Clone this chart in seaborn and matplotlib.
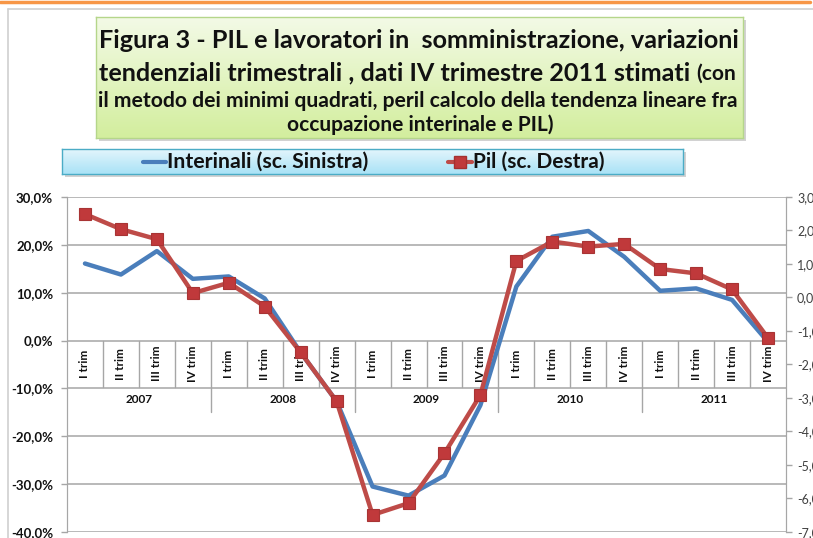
import numpy as np
import pandas as pd
import matplotlib
matplotlib.use("Agg")
import matplotlib.pyplot as plt
from matplotlib.patches import Rectangle
from matplotlib.lines import Line2D
import seaborn as sns

# Data
years = ["2007", "2008", "2009", "2010", "2011"]
quarters = ["I trim", "II trim", "III trim", "IV trim"]
interinali = [16.1, 13.8, 18.7, 12.9, 13.4, 8.8, -2.5, -12.7,
              -30.5, -32.4, -28.2, -13.5, 11.3, 21.7, 22.9, 17.5,
              10.4, 10.9, 8.5, -0.3]          # left axis, %
pil = [2.49, 2.04, 1.74, 0.13, 0.44, -0.27, -1.64, -3.10,
       -6.49, -6.14, -4.65, -2.91, 1.09, 1.67, 1.52, 1.60,
       0.85, 0.72, 0.24, -1.21]               # right axis, %
left_ticks = [30, 20, 10, 0, -10, -20, -30, -40]
right_ticks = [3, 2, 1, 0, -1, -2, -3, -4, -5, -6, -7]

W, H = 813, 538
BLUE = "#4A7EBB"
RED = "#BE4B48"
GRID = "#A6A6A6"
FONT = "Lato"

sns.set_style("white")
plt.rcParams['font.family'] = [FONT, 'DejaVu Sans']


def fx(x):
    return x / W


def fy(y):
    return 1 - y / H


def box_axes(fig, x0, y0, x1, y1, top_col, bot_col, edge):
    # drop shadow
    fig.patches.append(Rectangle((fx(x0 + 3), fy(y1 + 3)), (x1 - x0) / W, (y1 - y0) / H,
                                 transform=fig.transFigure, facecolor="#BFBFBF",
                                 edgecolor="none", alpha=0.7, zorder=0))
    bx = fig.add_axes([fx(x0), fy(y1), (x1 - x0) / W, (y1 - y0) / H], zorder=1)
    c0 = np.array(matplotlib.colors.to_rgb(top_col))
    c1 = np.array(matplotlib.colors.to_rgb(bot_col))
    t = np.linspace(0, 1, 64)[:, None]
    grad = (c0 * (1 - t) + c1 * t)[:, None, :]
    bx.imshow(grad, aspect="auto", extent=[0, 1, 0, 1])
    bx.set_xticks([])
    bx.set_yticks([])
    for s in bx.spines.values():
        s.set_color(edge)
        s.set_linewidth(1)
    return bx


fig = plt.figure(figsize=(W / 100, H / 100), dpi=100)
fig.patch.set_facecolor("white")

# page decorations
fig.add_artist(Line2D([0, fx(810)], [fy(1.5), fy(1.5)], color="#F79646", lw=2.5))
fig.add_artist(Line2D([fx(8), 1], [fy(9), fy(9)], color="#CFCFCF", lw=1.2))
fig.add_artist(Line2D([fx(8), fx(8)], [fy(9), 0], color="#CFCFCF", lw=1.2))

# title box
box_axes(fig, 96, 17, 743, 138, "#F3FAE6", "#D3EE9E", "#B5D68A")
fig.text(fx(419), fy(40), "Figura 3 - PIL e lavoratori in  somministrazione, variazioni",
         ha="center", va="center", fontsize=18.2, fontweight="bold", color="#111111")
fig.text(fx(690), fy(73), "tendenziali trimestrali , dati IV trimestre 2011 stimati",
         ha="right", va="center", fontsize=18.1, fontweight="bold", color="#111111")
fig.text(fx(696), fy(74), "(con", ha="left", va="center", fontsize=15,
         fontweight="bold", color="#111111")
fig.text(fx(418), fy(101), "il metodo dei minimi quadrati, peril calcolo della tendenza lineare fra",
         ha="center", va="center", fontsize=15.2, fontweight="bold", color="#111111")
fig.text(fx(420), fy(125), "occupazione interinale e PIL)",
         ha="center", va="center", fontsize=15, fontweight="bold", color="#111111")

# legend box
box_axes(fig, 62, 149, 683, 174, "#E3F5FC", "#A9E2F6", "#4BACC6")
fig.add_artist(Line2D([fx(143), fx(166)], [fy(162), fy(162)], color=BLUE, lw=3, zorder=5))
fig.text(fx(167), fy(162), "Interinali (sc. Sinistra)", ha="left", va="center",
         fontsize=15.3, fontweight="bold", color="#111111")
fig.add_artist(Line2D([fx(448), fx(472)], [fy(162), fy(162)], color=RED, lw=3, zorder=5))
fig.add_artist(Line2D([fx(460)], [fy(162)], color=RED, marker="s", markersize=9,
                      markerfacecolor="#C0393B", markeredgecolor="#A33030", zorder=6))
fig.text(fx(473), fy(162), "Pil (sc. Destra)", ha="left", va="center",
         fontsize=15, fontweight="bold", color="#111111")

# main chart
x_left, x_right, y_top, y_bot = 67, 786, 197, 532
ax = fig.add_axes([fx(x_left), fy(y_bot), (x_right - x_left) / W, (y_bot - y_top) / H], zorder=2)
ax.patch.set_alpha(0)
ax2 = ax.twinx()

n = len(interinali)
idx = np.arange(n)
df = pd.DataFrame({"pos": idx, "interinali": interinali, "pil": pil})

sns.lineplot(data=df, x="pos", y="interinali", ax=ax, color=BLUE, linewidth=3.2,
             zorder=4, clip_on=False)
sns.lineplot(data=df, x="pos", y="pil", ax=ax2, color=RED, linewidth=3.2,
             marker="s", markersize=9, markerfacecolor="#C0393B",
             markeredgecolor="#A83434", markeredgewidth=0.8, zorder=5, clip_on=False)

ax.set_xlim(-0.5, n - 0.5)
ax.set_ylim(-40, 30)
ax2.set_ylim(-7, 3)
ax.set_xlabel("")
ax.set_ylabel("")
ax2.set_ylabel("")
ax.set_xticks([])

ax.set_yticks(left_ticks)
ax.set_yticklabels([f"{v:.1f}%".replace(".", ",") for v in left_ticks],
                   fontsize=9.5, fontweight="bold", color="#111111")
ax2.set_yticks(right_ticks)
ax2.set_yticklabels([f"{v:.1f}%".replace(".", ",") for v in right_ticks],
                    fontsize=9, color="#404040")
ax.tick_params(axis="y", length=4, color=GRID, pad=6, width=1)
ax2.tick_params(axis="y", length=4, color=GRID, pad=4, width=1)

for v in left_ticks:
    ax.axhline(v, color=GRID, lw=1.1, zorder=1)

for a in (ax, ax2):
    a.spines["top"].set_visible(False)
    a.spines["bottom"].set_visible(False)
    a.spines["left"].set_color(GRID)
    a.spines["right"].set_color(GRID)
    a.grid(False)

# category axis drawn across the 0% line
px_per_unit = (y_bot - y_top) / 70.0
trim_bottom = -(385 - 339) / px_per_unit
year_bottom = -(410 - 339) / px_per_unit
for k in range(1, n):
    yb = year_bottom if k % 4 == 0 else trim_bottom
    ax.plot([k - 0.5, k - 0.5], [0, yb], color=GRID, lw=1, zorder=2)

for i in range(n):
    ax.text(i, -(362 - 339) / px_per_unit, quarters[i % 4], rotation=90,
            ha="center", va="center", fontsize=8.5, fontweight="bold",
            color="#111111", zorder=3)
for j, yr in enumerate(years):
    ax.text(4 * j + 1.5, -(398 - 339) / px_per_unit, yr, ha="center", va="center",
            fontsize=8.5, fontweight="bold", color="#111111", zorder=3)

fig.savefig("out.png", dpi=100, facecolor="white")
